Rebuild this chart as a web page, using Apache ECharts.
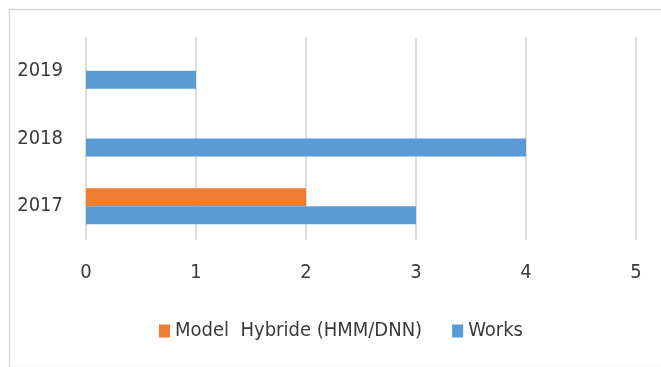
<!DOCTYPE html>
<html>
<head>
<meta charset="utf-8">
<script src="https://cdn.jsdelivr.net/npm/echarts@6/dist/echarts.min.js"></script>
<style>
  html, body { margin: 0; padding: 0; background: #ffffff; }
  #chart { width: 661px; height: 367px; }
</style>
</head>
<body>
<div id="chart"></div>
<script>
// Publication years on the category axis
const years = ['2017', '2018', '2019'];
// Number of hybrid HMM/DNN models per year
const hybridValues = [2, null, null];
// Number of works per year
const worksValues = [3, 4, 1];
// Value-axis ticks
const xTicks = [0, 1, 2, 3, 4, 5];

const FONT = '"DejaVu Sans Condensed", "Liberation Sans", sans-serif';
const TEXT = '#3a3a3a';

const chart = echarts.init(document.getElementById('chart'), null, { renderer: 'canvas' });

chart.setOption({
  animation: false,
  backgroundColor: '#ffffff',
  graphic: [{
    type: 'rect',
    left: 7, top: 7,
    shape: { width: 720, height: 358 },
    style: { fill: 'none', stroke: '#d9d9d9', lineWidth: 1.5 },
    silent: true,
    z: -1
  }],
  grid: { left: 86, right: 25, top: 37, bottom: 127, containLabel: false },
  legend: {
    data: ['Model  Hybride (HMM/DNN)', 'Works'],
    left: 154, top: 316,
    itemWidth: 11, itemHeight: 13, itemGap: 30,
    icon: 'rect',
    textStyle: { fontFamily: FONT, fontSize: 20, color: TEXT },
    selectedMode: false
  },
  xAxis: {
    type: 'value',
    min: xTicks[0], max: xTicks[xTicks.length - 1], interval: 1,
    axisLine: { show: false },
    axisTick: { show: false },
    axisLabel: { fontFamily: FONT, fontSize: 20, color: TEXT, margin: 23 },
    splitLine: { show: true, lineStyle: { color: '#dcdcdc', width: 2 } }
  },
  yAxis: {
    type: 'category',
    data: years,
    axisLine: { show: false },
    axisTick: { show: false },
    axisLabel: { fontFamily: FONT, fontSize: 20, color: TEXT, margin: 23 },
    splitLine: { show: false }
  },
  series: [
    {
      name: 'Model  Hybride (HMM/DNN)',
      type: 'bar',
      data: hybridValues,
      barWidth: 18,
      barGap: '0%',
      itemStyle: { color: '#ED7D31' }
    },
    {
      name: 'Works',
      type: 'bar',
      data: worksValues,
      barWidth: 18,
      barGap: '0%',
      itemStyle: { color: '#5B9BD5' }
    }
  ]
});
</script>
</body>
</html>
